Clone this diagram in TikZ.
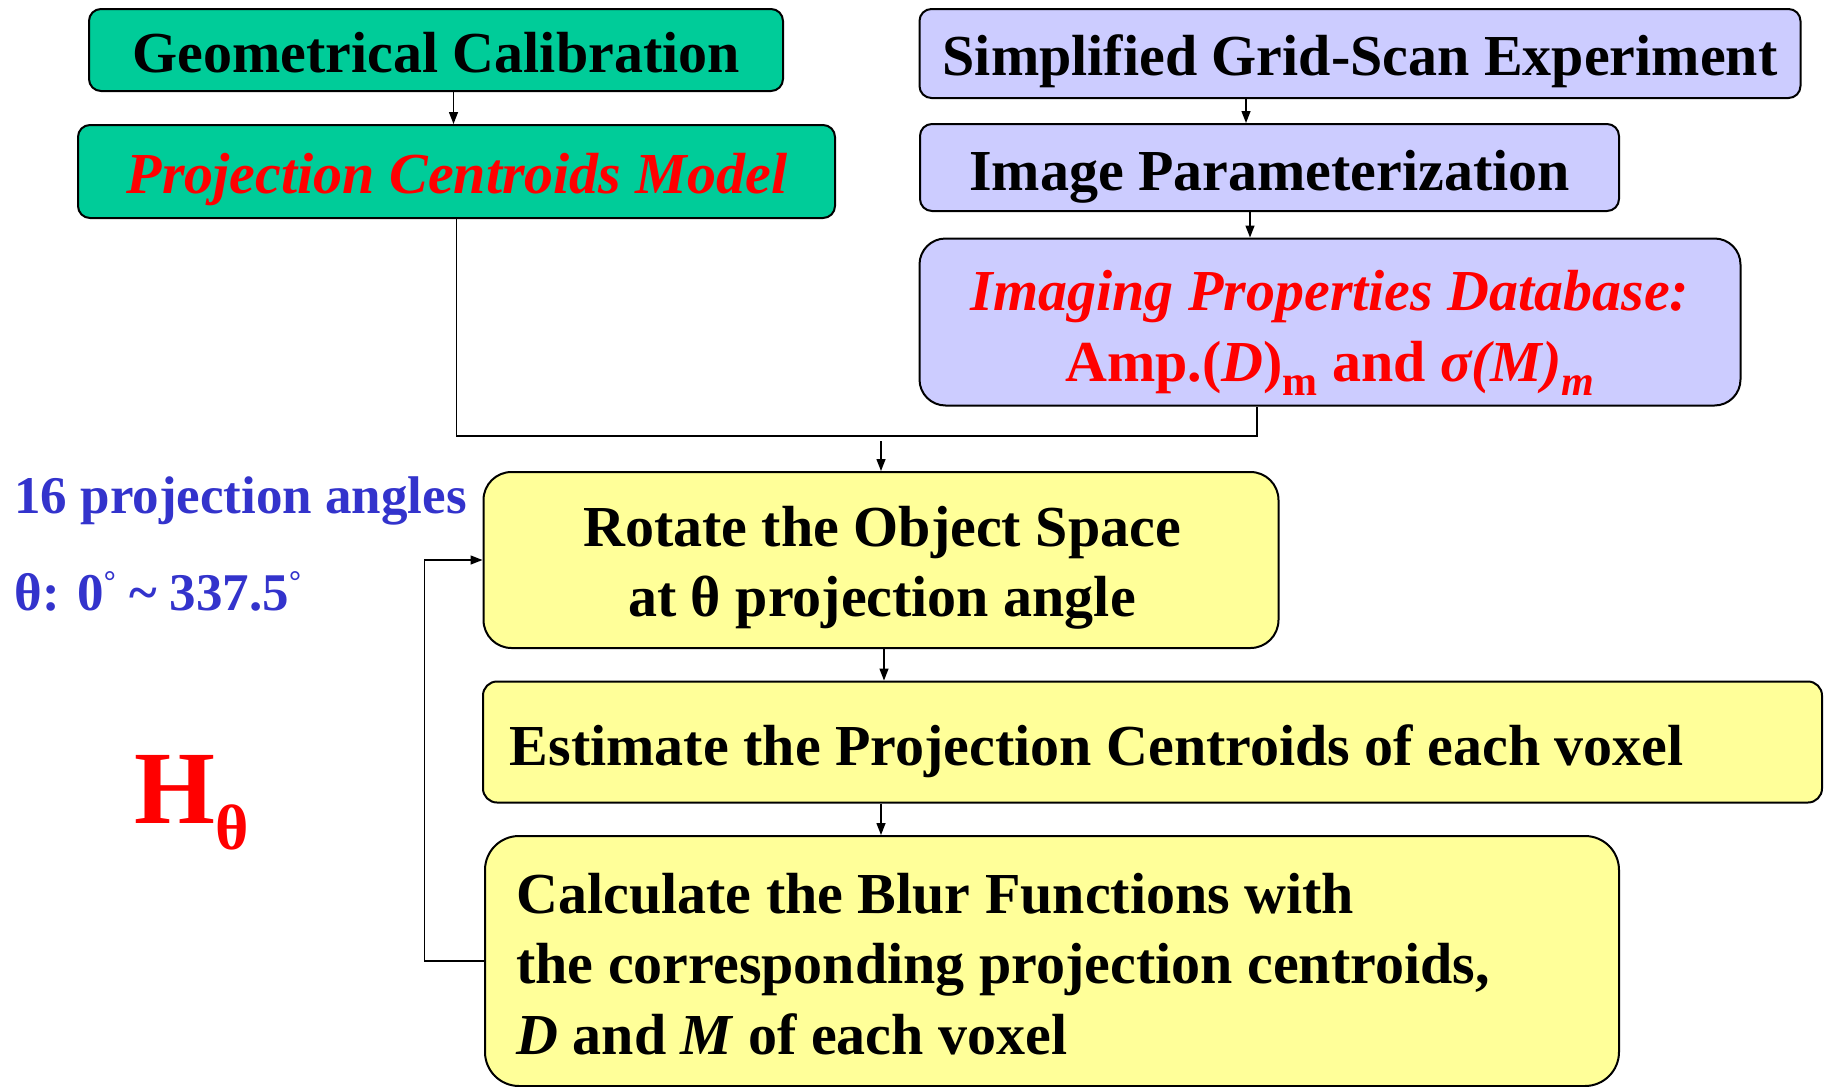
\documentclass[tikz,border=0pt]{standalone}
\usepackage{fontspec}
\setmainfont{Liberation Serif}
\usetikzlibrary{arrows.meta}
\definecolor{grn}{RGB}{0,204,153}
\definecolor{lav}{RGB}{204,204,255}
\definecolor{ylw}{RGB}{255,255,153}
\definecolor{bluetxt}{RGB}{51,51,204}
\newcommand\lowsub[1]{\raisebox{-7pt}{\fontsize{21}{21}\selectfont #1}}
\newcommand\smalldeg{\raisebox{9.5pt}{\fontsize{15}{15}\selectfont °}}
\tikzset{
  box/.style={draw=black, line width=1pt, rounded corners=#1, inner sep=0pt},
  box/.default=6pt,
  txt/.style={inner sep=0pt, font=\fontsize{29}{35.25}\selectfont\bfseries},
  conn/.style={line width=0.7pt},
  arr/.style={conn, -{Triangle[length=6pt,width=4.5pt]}},
  lbl/.style={anchor=base west, inner sep=0pt, font=\fontsize{26.5}{30}\selectfont\bfseries, text=bluetxt}
}
\begin{document}
\begin{tikzpicture}[x=1pt,y=-1pt]
\useasboundingbox (0,0) rectangle (914,543.5);
% boxes
\node[box, fill=grn, minimum width=347pt, minimum height=41pt] (gc) at (218,25) {};
\node[box, fill=grn, minimum width=378.5pt, minimum height=46.5pt] (pcm) at (228.25,85.75) {};
\node[box, fill=lav, minimum width=440.5pt, minimum height=44.5pt] (sgse) at (680,26.75) {};
\node[box, fill=lav, minimum width=349.5pt, minimum height=43.5pt] (ip) at (634.75,83.75) {};
\node[box=13pt, fill=lav, minimum width=410.5pt, minimum height=83.5pt] (ipd) at (665,161) {};
\node[box=14pt, fill=ylw, minimum width=397.5pt, minimum height=88pt] (rot) at (440.5,280) {};
\node[box=7pt, fill=ylw, minimum width=669.5pt, minimum height=60.5pt] (est) at (576.25,371) {};
\node[box=17pt, fill=ylw, minimum width=567pt, minimum height=125pt] (calc) at (526,480.5) {};
% box texts (multi-line nodes: base = last line)
\node[txt, anchor=base] (gct) at (218,36.35) {Geometrical Calibration};
\node[txt, anchor=base, text=red] (pcmt) at (228.5,96.9) {\itshape Projection Centroids Model};
\node[txt, anchor=base] (sgset) at (680,37.9) {Simplified Grid-Scan Experiment};
\node[txt, anchor=base] (ipt) at (634.75,95) {Image Parameterization};
\node[txt, anchor=base, align=center, text=red] (ipdt) at (665,190.5)
  {\itshape Imaging Properties Database:\\ \upshape Amp.(\textit{D})\lowsub{m} and \textit{σ(M)}\lowsub{\itshape m}};
\node[txt, anchor=base, align=center] (rott) at (441,308.35) {Rotate the Object Space\\at θ projection angle};
\node[txt, anchor=base west] (estt) at (254.75,382.5) {Estimate the Projection Centroids of each voxel};
\node[txt, anchor=base west, align=left] (calct) at (258,527)
  {Calculate the Blur Functions with\\the corresponding projection centroids,\\\textit{D} and \textit{M} of each voxel};
% labels
\node[lbl] (angles) at (7,256.5) {16 projection angles};
\node[lbl] (range) at (7,305) {θ: 0\smalldeg{} \textasciitilde{} 337.5\smalldeg};
\node[anchor=base west, inner sep=0pt, text=red, font=\fontsize{52}{60}\selectfont\bfseries] (h) at (67,411.5)
  {H\raisebox{-13pt}{\fontsize{32}{32}\selectfont θ}};
% helper coordinates
\coordinate (xa) at (226.75,0);
\coordinate (xb) at (623,0);
\coordinate (xc) at (625,0);
\coordinate (jr) at (628.5,218);
\coordinate (jm) at (440.5,220.5);
\coordinate (xg) at (442,0);
\coordinate (xh) at (440.5,0);
% connectors
\draw[arr] (gc.south -| xa) -- (pcm.north -| xa);
\draw[arr] (sgse.south -| xb) -- (ip.north -| xb);
\draw[arr] (ip.south -| xc) -- (ipd.north -| xc);
\draw[conn] (pcm.south) |- (jr) -- (ipd.south -| jr);
\draw[arr] (jm) -- (rot.north);
\draw[arr] (rot.south -| xg) -- (est.north -| xg);
\draw[arr] (est.south -| xh) -- (calc.north -| xh);
\draw[arr] (calc.west) -- ++(-29.75,0) |- (rot.west);
\end{tikzpicture}
\end{document}
